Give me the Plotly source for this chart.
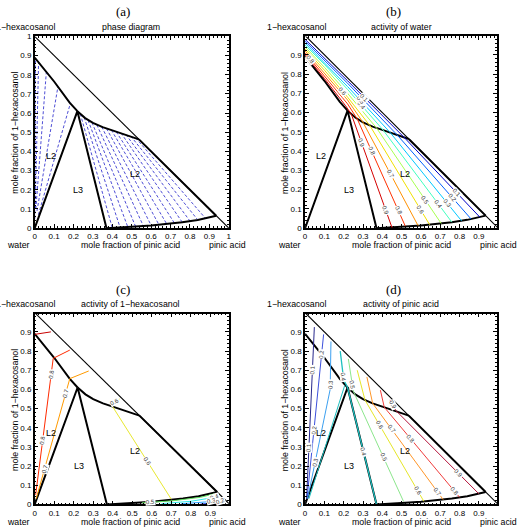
import math
import plotly.graph_objects as go

W, H = 524, 532

# ---------------- phase boundaries (x = pinic acid, y = 1-hexacosanol) ----------------
hyp_x = [0, 1]
hyp_y = [1, 0]
upper_left_x = [0, 0.1, 0.18, 0.22]
upper_left_y = [0.89, 0.765, 0.655, 0.61]
upper_right_x = [0.22, 0.26, 0.30, 0.35, 0.40, 0.45, 0.50, 0.537]
upper_right_y = [0.61, 0.574, 0.549, 0.527, 0.51, 0.494, 0.478, 0.463]
l3_x = [0, 0.22, 0.37]
l3_y = [0, 0.61, 0]
bottom_x = [0.37, 0.44, 0.52, 0.60, 0.68, 0.76, 0.84, 0.90, 0.935]
bottom_y = [0, 0.003, 0.008, 0.014, 0.022, 0.031, 0.043, 0.056, 0.065]
edge_x = [0.537, 0.935]
edge_y = [0.463, 0.065]

# ---------------- tie lines (panel a) ----------------
tie_up_x = [0.235, 0.255, 0.275, 0.295, 0.32, 0.345, 0.37, 0.395, 0.42, 0.445, 0.47, 0.495, 0.52]
tie_up_y = [0.596, 0.578, 0.563, 0.551, 0.539, 0.529, 0.52, 0.512, 0.503, 0.496, 0.488, 0.48, 0.471]
tie_lo_x = [0.40, 0.44, 0.48, 0.52, 0.56, 0.60, 0.64, 0.68, 0.72, 0.76, 0.80, 0.84, 0.88]
tie_lo_y = [0.001, 0.003, 0.005, 0.008, 0.011, 0.014, 0.018, 0.022, 0.026, 0.031, 0.037, 0.043, 0.051]
tie_left_lo_x = [0.019, 0.012, 0.006, 0.003, 0.001]
tie_left_lo_y = [0.07, 0.09, 0.10, 0.10, 0.05]
tie_left_up_x = [0.185, 0.12, 0.06, 0.02, 0.004]
tie_left_up_y = [0.655, 0.74, 0.814, 0.865, 0.885]

# ---------------- panel b: activity of water ----------------
b_levels = ["0.9", "0.8", "0.7", "0.6", "0.5", "0.4", "0.3", "0.2", "0.1"]
b_colors = ["#d40000", "#ff3000", "#ff9000", "#f0e000", "#a8ff50", "#40ffc0", "#00c8ff", "#0060ff", "#0000c8"]
b_x = [
    [0, 0.1, 0.21, 0.24, 0.45],
    [0, 0.1, 0.22, 0.27, 0.52],
    [0, 0.1, 0.22, 0.30, 0.585],
    [0, 0.1, 0.22, 0.335, 0.645],
    [0, 0.1, 0.22, 0.37, 0.705],
    [0, 0.1, 0.22, 0.405, 0.76],
    [0, 0.1, 0.22, 0.44, 0.81],
    [0, 0.1, 0.22, 0.475, 0.86],
    [0, 0.1, 0.22, 0.51, 0.905],
]
b_y = [
    [0.90, 0.777, 0.635, 0.59, 0.003],
    [0.91, 0.79, 0.645, 0.567, 0.008],
    [0.92, 0.805, 0.665, 0.549, 0.013],
    [0.93, 0.82, 0.68, 0.533, 0.018],
    [0.94, 0.835, 0.70, 0.52, 0.024],
    [0.95, 0.85, 0.72, 0.508, 0.031],
    [0.96, 0.86, 0.735, 0.497, 0.038],
    [0.97, 0.872, 0.752, 0.486, 0.047],
    [0.98, 0.882, 0.765, 0.474, 0.057],
]
# (line index, segment, position along segment)
b_labels = [(0, 3, 0.25), (0, 3, 0.85), (1, 3, 0.3), (1, 3, 0.85), (2, 3, 0.5), (3, 3, 0.85),
            (4, 3, 0.75), (5, 3, 0.8), (6, 3, 0.8), (7, 3, 0.75), (8, 3, 0.7),
            (1, 0, 0.3), (3, 1, 0.8), (5, 2, 0.4), (6, 2, 0.3), (8, 2, 0.3)]

# ---------------- panel c: activity of 1-hexacosanol ----------------
c_levels = ["0.9", "0.8", "0.7", "0.6", "0.5", "0.4", "0.3", "0.2", "0.1"]
c_colors = ["#c80000", "#ff2a00", "#ff9a00", "#e8e830", "#60e060", "#30e8e8", "#30a0ff", "#3050f0", "#2020a0"]
c_x = [
    [0, 0.083],
    [0.005, 0.095, 0.18],
    [0.008, 0.18, 0.277],
    [0.435, 0.39, 0.70],
    [0.55, 0.70, 0.85, 0.92],
    [0.65, 0.80, 0.90, 0.945],
    [0.75, 0.88, 0.96],
    [0.85, 0.93, 0.97],
    [0.92, 0.98],
]
c_y = [
    [0.887, 0.90],
    [0.05, 0.762, 0.805],
    [0.03, 0.656, 0.696],
    [0.55, 0.525, 0.027],
    [0.008, 0.018, 0.037, 0.055],
    [0.004, 0.016, 0.033, 0.048],
    [0.003, 0.013, 0.032],
    [0.002, 0.009, 0.022],
    [0.001, 0.012],
]
c_labels = [(1, 0, 0.4), (1, 0, 0.88), (2, 0, 0.25), (2, 0, 0.88), (3, 0, 0.6), (3, 1, 0.6),
            (4, 0, 0.3), (5, 2, 0.5), (6, 1, 0.3), (7, 1, 0.6)]

# ---------------- panel d: activity of pinic acid ----------------
d_levels = ["0.1", "0.2", "0.3", "0.4", "0.5", "0.6", "0.7", "0.8", "0.9"]
d_colors = ["#28288c", "#3c50dc", "#3ca0f0", "#1ec0c0", "#8ce68c", "#e6e628", "#ff9628", "#f03c3c", "#b4143c"]
d_x = [
    [0.008, 0.048],
    [0.01, 0.096],
    [0.013, 0.13, 0.134],
    [0.182, 0.20, 0.22, 0.37],
    [0.224, 0.25, 0.51],
    [0.27, 0.31, 0.615],
    [0.32, 0.35, 0.715],
    [0.39, 0.41, 0.80],
    [0.44, 0.47, 0.90],
]
d_y = [
    [0.03, 0.925],
    [0.03, 0.887],
    [0.03, 0.6, 0.85],
    [0.80, 0.65, 0.61, 0.0],
    [0.759, 0.59, 0.015],
    [0.70, 0.545, 0.016],
    [0.665, 0.527, 0.025],
    [0.596, 0.507, 0.037],
    [0.545, 0.49, 0.055],
]
d_extra_x = [0.02, 0.205]
d_extra_y = [0.03, 0.62]
d_labels = [(0, 0, 0.3), (0, 0, 0.75), (1, 0, 0.42), (1, 0, 0.88), (2, 0, 0.33), (2, 1, 0.1),
            (3, 0, 0.9), (3, 2, 0.55), (4, 0, 0.8), (4, 1, 0.6), (5, 1, 0.25), (5, 1, 0.9),
            (6, 1, 0.27), (6, 1, 0.92), (7, 1, 0.35), (7, 1, 0.93), (8, 0, 0.5), (8, 1, 0.75)]

region_x = [0.085, 0.225, 0.515]
region_y = [0.375, 0.2, 0.28]
region_text = ["L2", "L3", "L2"]

fig = go.Figure()

SCALE = {1: (196, 195), 2: (194, 195), 3: (196, 194), 4: (194, 194)}
FONT = "Liberation Sans"


def sfx(i):
    return "" if i == 1 else str(i)


def add_line(xs, ys, color, width, ax, dash=None):
    fig.add_trace(go.Scatter(x=xs, y=ys, mode="lines",
                             line=dict(color=color, width=width, dash=dash),
                             xaxis="x" + sfx(ax), yaxis="y" + sfx(ax),
                             hoverinfo="skip", showlegend=False))


def add_label(xs, ys, seg, t, text, ax):
    sx, sy = SCALE[ax]
    x0, y0, x1, y1 = xs[seg], ys[seg], xs[seg + 1], ys[seg + 1]
    x = x0 + (x1 - x0) * t
    y = y0 + (y1 - y0) * t
    ang = math.degrees(math.atan2(-(y1 - y0) * sy, (x1 - x0) * sx))
    if ang > 90:
        ang -= 180
    if ang <= -90:
        ang += 180
    fig.add_annotation(x=x, y=y, xref="x" + sfx(ax), yref="y" + sfx(ax), text=text,
                       showarrow=False, textangle=ang,
                       font=dict(family=FONT, size=6, color="#333333"),
                       bgcolor="white", borderpad=0)


def boundaries(ax):
    add_line(hyp_x, hyp_y, "black", 1.1, ax)
    add_line(upper_left_x, upper_left_y, "black", 2, ax)
    add_line(upper_right_x, upper_right_y, "black", 2, ax)
    add_line(l3_x, l3_y, "black", 2, ax)
    add_line(bottom_x, bottom_y, "black", 2, ax)
    add_line(edge_x, edge_y, "black", 2, ax)


# panel a
for i in range(len(tie_up_x)):
    add_line([tie_up_x[i], tie_lo_x[i]], [tie_up_y[i], tie_lo_y[i]], "#3a3ad0", 0.9, 1, dash="3px,2px")
for i in range(len(tie_left_up_x)):
    add_line([tie_left_lo_x[i], tie_left_up_x[i]], [tie_left_lo_y[i], tie_left_up_y[i]], "#3a3ad0", 0.9, 1,
             dash="3px,2px")
boundaries(1)

# panel b
boundaries(2)
for i in range(len(b_levels)):
    add_line(b_x[i], b_y[i], b_colors[i], 1, 2)
for li, seg, t in b_labels:
    add_label(b_x[li], b_y[li], seg, t, b_levels[li], 2)

# panel c
boundaries(3)
for i in range(len(c_levels)):
    add_line(c_x[i], c_y[i], c_colors[i], 1, 3)
for li, seg, t in c_labels:
    add_label(c_x[li], c_y[li], seg, t, c_levels[li], 3)

# panel d
boundaries(4)
for i in range(len(d_levels)):
    add_line(d_x[i], d_y[i], d_colors[i], 1.3 if i == 3 else 1, 4)
add_line(d_extra_x, d_extra_y, d_colors[3], 1, 4)
for li, seg, t in d_labels:
    add_label(d_x[li], d_y[li], seg, t, d_levels[li], 4)

# region labels
for ax in (1, 2, 3, 4):
    for k in range(3):
        fig.add_annotation(x=region_x[k], y=region_y[k], xref="x" + sfx(ax), yref="y" + sfx(ax),
                           text=region_text[k], showarrow=False,
                           font=dict(family=FONT, size=9, color="black"))


def px(x):
    return x / W


def py(y):
    return 1 - y / H


def txt(x, y, text, size=8.8, family=FONT, xanchor="center", angle=0):
    fig.add_annotation(x=px(x), y=py(y), xref="paper", yref="paper", text=text, showarrow=False,
                       xanchor=xanchor, yanchor="middle", textangle=angle,
                       font=dict(family=family, size=size, color="black"))


panel_titles = ["(a)", "(b)", "(c)", "(d)"]
panel_subtitles = ["phase diagram", "activity of water", "activity of 1−hexacosanol", "activity of pinic acid"]
col_left = [0, 273]
row_top = [0, 282]
for k in range(4):
    c = k % 2
    r = k // 2
    ox = col_left[c]
    oy = row_top[r]
    txt(122 + ox, 8 + oy, panel_titles[k], size=13, family="Liberation Serif")
    txt(56 + ox, 23 + oy, "1−hexacosanol", xanchor="right")
    txt(130 + ox, 23 + oy, panel_subtitles[k])
    txt(17 + ox, 245 + oy, "water")
    txt(130 + ox, 245 + oy, "mole fraction of pinic acid")
    txt(228 + ox, 245 + oy, "pinic acid")
    txt(13 + ox, 131 + oy, "mole fraction of 1−hexacosanol", angle=-90)


def axis_cfg(domain, rng, anchor):
    return dict(domain=domain, range=rng, tickmode="linear", tick0=0, dtick=0.1,
                ticks="inside", ticklen=4, tickwidth=1, tickcolor="black",
                showline=True, linecolor="black", linewidth=1.5, mirror="ticks",
                showgrid=False, zeroline=False, anchor=anchor, fixedrange=True,
                tickfont=dict(family=FONT, size=8, color="black"),
                minor=dict(ticks="inside", ticklen=2, dtick=0.02, tickcolor="black", showgrid=False))


xd_left = [33 / W, 229 / W]
xd_right = [306 / W, 500 / W]
yd_top = [1 - 228 / H, 1 - 33 / H]
yd_bot = [1 - 509 / H, 1 - 315 / H]

fig.update_layout(
    width=W, height=H, margin=dict(l=0, r=0, t=0, b=0),
    paper_bgcolor="white", plot_bgcolor="white", showlegend=False,
    xaxis=axis_cfg(xd_left, [0, 1.0], "y"),
    yaxis=axis_cfg(yd_top, [0, 1.0], "x"),
    xaxis2=axis_cfg(xd_right, [0, 0.995], "y2"),
    yaxis2=axis_cfg(yd_top, [0, 0.995], "x2"),
    xaxis3=axis_cfg(xd_left, [0, 0.995], "y3"),
    yaxis3=axis_cfg(yd_bot, [0, 0.995], "x3"),
    xaxis4=axis_cfg(xd_right, [0, 0.995], "y4"),
    yaxis4=axis_cfg(yd_bot, [0, 0.995], "x4"),
)

fig.write_html("out.html")
